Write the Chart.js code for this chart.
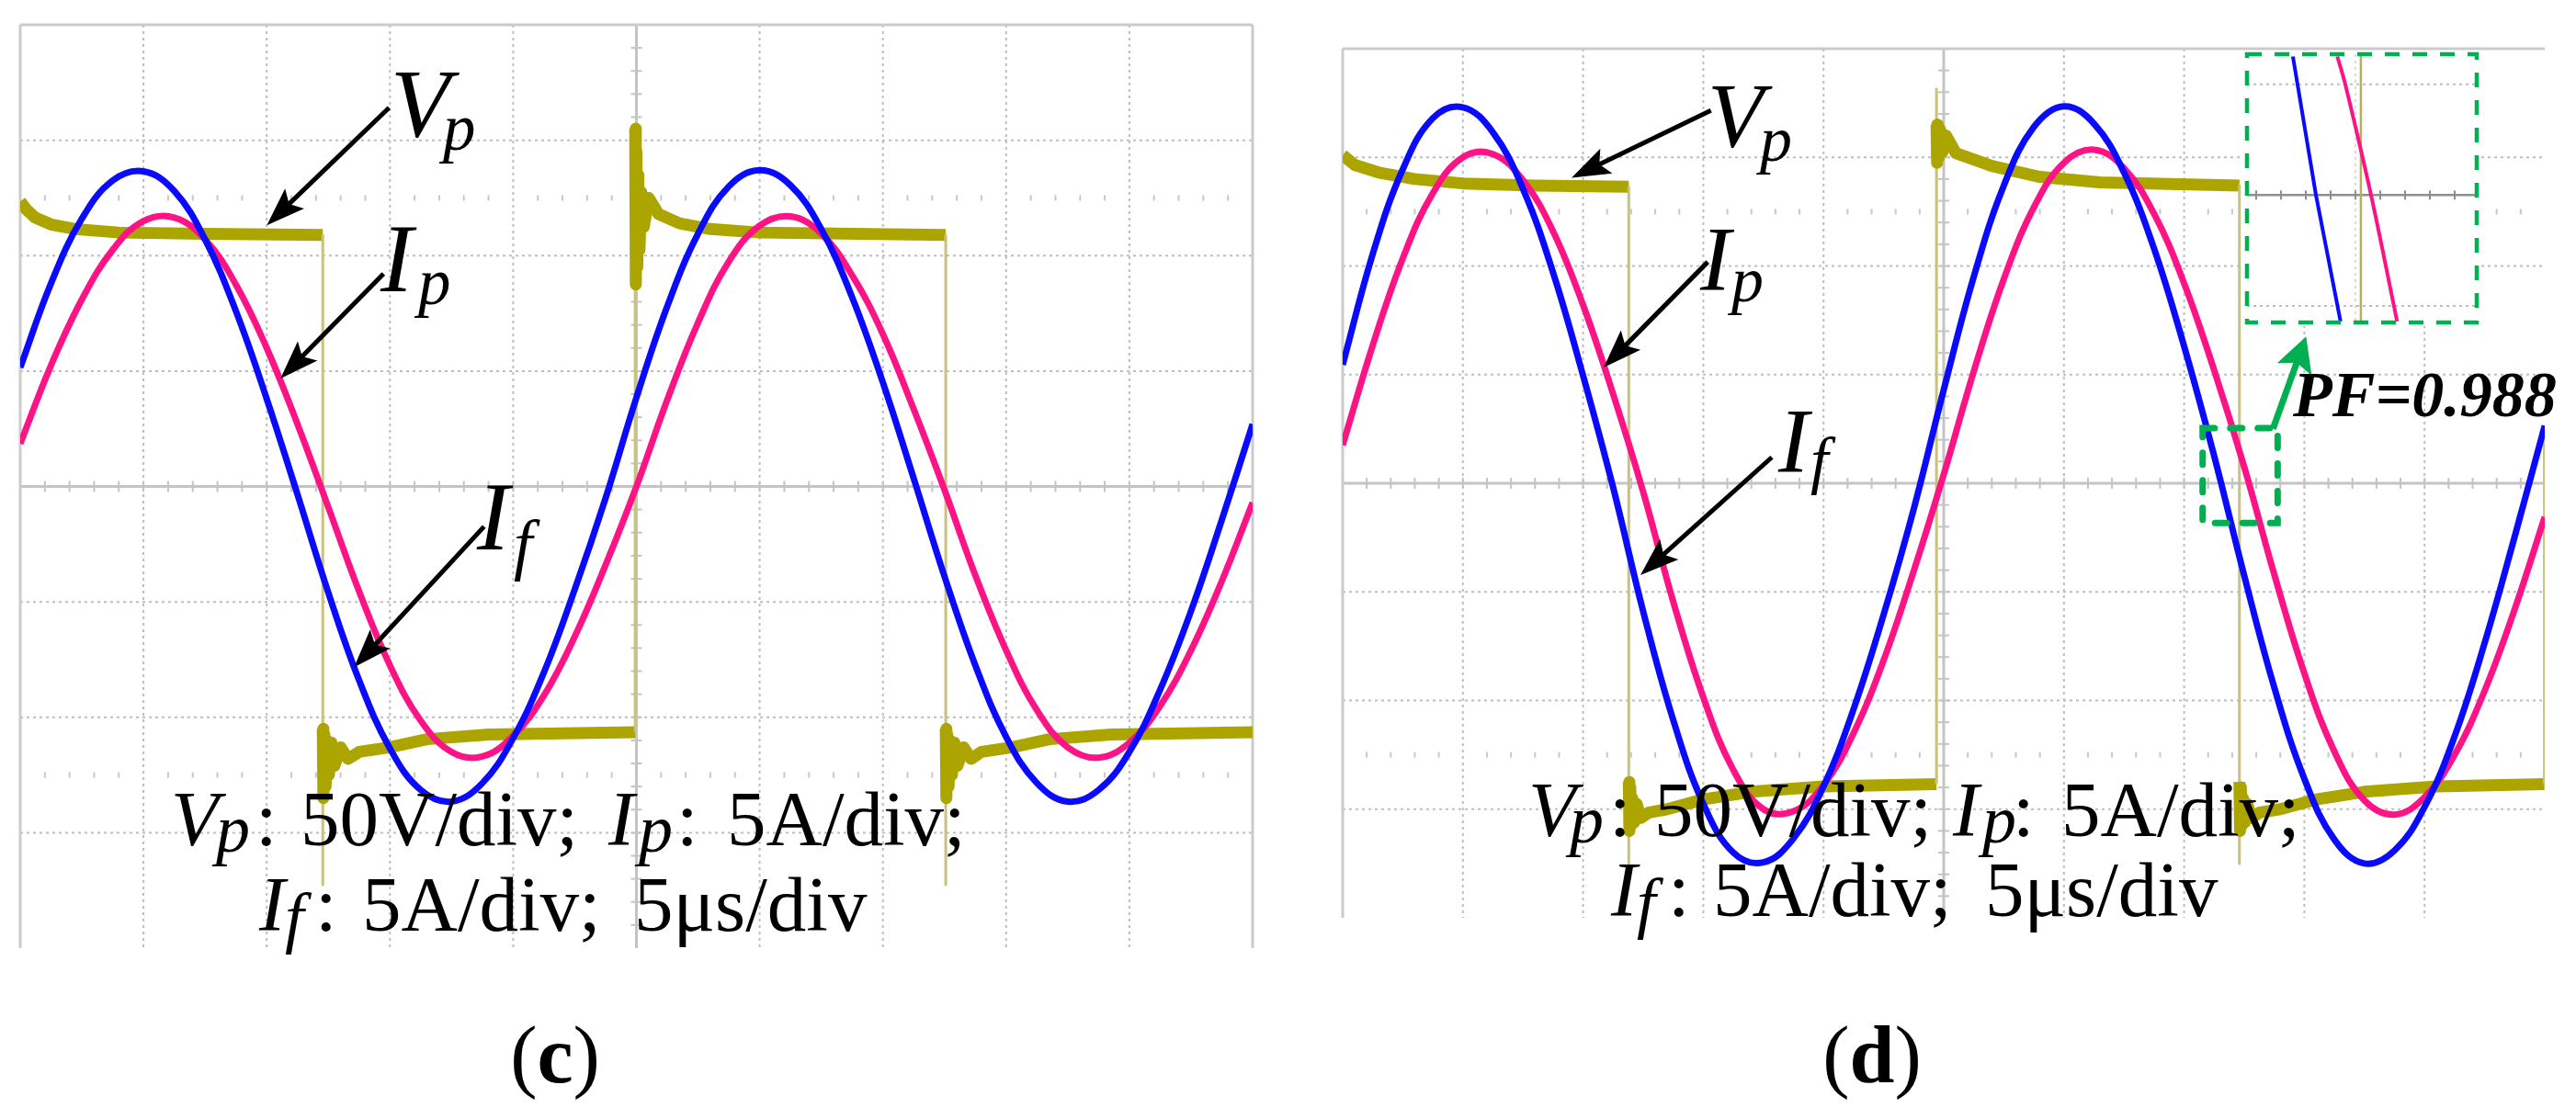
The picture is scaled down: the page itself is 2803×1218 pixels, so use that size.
<!DOCTYPE html>
<html>
<head>
<meta charset="utf-8">
<title>Scope waveforms (c) and (d)</title>
<script src="https://cdn.jsdelivr.net/npm/chart.js@4.4.1/dist/chart.umd.min.js"></script>
<style>
  html, body { margin: 0; padding: 0; background: #fff; }
  body { position: relative; width: 2803px; height: 1218px; overflow: hidden; }
  canvas { position: absolute; }
  #labels { position: absolute; left: 0; top: 0; }
  #labels text { font-family: "Liberation Serif", "Times New Roman", serif; fill: #000; }
  #labels .it { font-style: italic; }
</style>
</head>
<body>
<canvas id="scope-c" width="1349" height="1013" style="left:18px;top:23px"></canvas>
<canvas id="scope-d" width="1316" height="954" style="left:1457px;top:49px"></canvas>
<canvas id="scope-zoom" width="258" height="300" style="left:2441px;top:55px"></canvas>

<svg id="labels" width="2803" height="1218" xmlns="http://www.w3.org/2000/svg">
  <!-- (c) trace names -->
  <text class="it" x="425" y="148" font-size="106">V</text>
  <text class="it" x="482" y="163" font-size="71">p</text>
  <text class="it" x="414" y="317" font-size="106">I</text>
  <text class="it" x="455" y="331" font-size="71">p</text>
  <text class="it" x="519" y="598" font-size="106">I</text>
  <text class="it" x="559" y="617" font-size="73">f</text>
  <!-- (c) scale note -->
  <text class="it" x="186" y="920" font-size="85">V</text>
  <text class="it" x="235" y="927" font-size="74">p</text>
  <text x="278" y="920" font-size="85">:</text>
  <text x="327" y="920" font-size="85">50V/div;</text>
  <text class="it" x="662" y="920" font-size="85">I</text>
  <text class="it" x="695" y="927" font-size="74">p</text>
  <text x="736" y="920" font-size="85">:</text>
  <text x="791" y="920" font-size="85">5A/div;</text>
  <text class="it" x="282" y="1013" font-size="85">I</text>
  <text class="it" x="310" y="1023" font-size="74">f</text>
  <text x="343" y="1013" font-size="85">:</text>
  <text x="394" y="1013" font-size="85">5A/div;</text>
  <text x="690" y="1013" font-size="85">5μs/div</text>
  <text x="604" y="1178" font-size="88" text-anchor="middle">(<tspan font-weight="bold">c</tspan>)</text>

  <!-- (d) trace names -->
  <text class="it" x="1858" y="159" font-size="100">V</text>
  <text class="it" x="1915" y="175" font-size="70">p</text>
  <text class="it" x="1850" y="315" font-size="100">I</text>
  <text class="it" x="1884" y="328" font-size="70">p</text>
  <text class="it" x="1935" y="513" font-size="100">I</text>
  <text class="it" x="1970" y="524" font-size="70">f</text>
  <!-- (d) scale note -->
  <text class="it" x="1663" y="910" font-size="85">V</text>
  <text class="it" x="1708" y="917" font-size="74">p</text>
  <text x="1751" y="910" font-size="85">:</text>
  <text x="1800" y="910" font-size="85">50V/div;</text>
  <text class="it" x="2125" y="910" font-size="85">I</text>
  <text class="it" x="2157" y="917" font-size="74">p</text>
  <text x="2190" y="910" font-size="85">:</text>
  <text x="2243" y="910" font-size="85">5A/div;</text>
  <text class="it" x="1753" y="997" font-size="85">I</text>
  <text class="it" x="1781" y="1007" font-size="74">f</text>
  <text x="1815" y="997" font-size="85">:</text>
  <text x="1864" y="997" font-size="85">5A/div;</text>
  <text x="2160" y="997" font-size="85">5μs/div</text>
  <text x="2495" y="453" font-size="70" font-weight="bold" font-style="italic">PF=0.988</text>
  <text x="2037" y="1178" font-size="88" text-anchor="middle">(<tspan font-weight="bold">d</tspan>)</text>
</svg>

<script>
// time axis in divisions (5 us/div), shared by the current traces
const tDiv = [0, 0.25, 0.5, 0.75, 1, 1.25, 1.5, 1.75, 2, 2.25, 2.5, 2.75, 3, 3.25, 3.5, 3.75,
              4, 4.25, 4.5, 4.75, 5, 5.25, 5.5, 5.75, 6, 6.25, 6.5, 6.75, 7, 7.25, 7.5, 7.75,
              8, 8.25, 8.5, 8.75, 9, 9.25, 9.5, 9.75, 10];

// (c) readings, in divisions
const cIf = [1.03, 1.76, 2.32, 2.65, 2.73, 2.56, 2.14, 1.52, 0.76, -0.07, -0.92, -1.68, -2.27, -2.63,
             -2.73, -2.57, -2.18, -1.61, -0.89, -0.10, 0.77, 1.56, 2.19, 2.60, 2.74, 2.61, 2.23, 1.64,
             0.90, 0.07, -0.78, -1.55, -2.17, -2.57, -2.73, -2.63, -2.30, -1.76, -1.08, -0.29, 0.54];
const cIp = [0.37, 1.05, 1.62, 2.05, 2.30, 2.33, 2.14, 1.75, 1.20, 0.54, -0.18, -0.91, -1.55, -2.03,
             -2.30, -2.34, -2.16, -1.81, -1.30, -0.68, 0.00, 0.75, 1.42, 1.95, 2.26, 2.34, 2.19, 1.83,
             1.32, 0.67, -0.03, -0.77, -1.42, -1.94, -2.26, -2.35, -2.22, -1.90, -1.42, -0.82, -0.14];
const cVpT = [0, 0.05, 0.12, 0.25, 0.45, 0.8, 1.5,
              2.455, 2.455, 2.455, 2.46, 2.468, 2.478, 2.49, 2.505, 2.525, 2.55, 2.6, 2.66, 2.75, 3.0, 3.3, 3.8,
              4.99, 4.99, 4.995, 5.0, 5.008, 5.015, 5.025, 5.04, 5.06, 5.1, 5.18, 5.35, 5.6, 6.0,
              7.51, 7.51, 7.51, 7.515, 7.523, 7.533, 7.545, 7.56, 7.58, 7.605, 7.655, 7.715, 7.8,
              8.05, 8.35, 8.85, 10];
const cVp = [2.47, 2.40, 2.33, 2.27, 2.23, 2.20, 2.19,
             2.18, -3.45, -2.10, -2.70, -2.15, -2.60, -2.20, -2.50, -2.22, -2.42, -2.26, -2.36, -2.30, -2.26, -2.19, -2.15,
             -2.13, 3.10, 1.75, 2.90, 1.90, 2.70, 2.05, 2.55, 2.25, 2.50, 2.36, 2.28, 2.23, 2.20,
             2.18, -3.45, -2.10, -2.70, -2.15, -2.60, -2.20, -2.50, -2.22, -2.42, -2.26, -2.36, -2.30,
             -2.26, -2.19, -2.15, -2.13];

// (d) readings, in divisions
const dIf = [1.09, 2.11, 2.89, 3.36, 3.46, 3.23, 2.71, 1.94, 0.99, -0.04, -1.18, -2.18, -2.95, -3.40,
             -3.49, -3.27, -2.79, -2.08, -1.21, -0.24, 0.86, 1.90, 2.74, 3.28, 3.47, 3.31, 2.86, 2.16,
             1.26, 0.25, -0.85, -1.88, -2.72, -3.28, -3.50, -3.38, -2.98, -2.33, -1.47, -0.49, 0.53];
const dIp = [0.35, 1.27, 2.07, 2.67, 3.00, 3.03, 2.79, 2.32, 1.64, 0.82, -0.08, -1.09, -1.97, -2.64,
             -3.00, -3.02, -2.78, -2.30, -1.63, -0.81, 0.08, 1.03, 1.88, 2.54, 2.95, 3.07, 2.90, 2.48,
             1.84, 1.04, 0.15, -0.84, -1.75, -2.47, -2.92, -3.05, -2.89, -2.50, -1.91, -1.16, -0.31];
const dVpT = [0, 0.1, 0.3, 0.6, 1.0, 1.6, 2.38,
              2.38, 2.38, 2.385, 2.392, 2.4, 2.41, 2.425, 2.445, 2.48, 2.55, 2.7, 3.0, 3.4, 4.0, 4.94,
              4.94, 4.94, 4.945, 4.951, 4.96, 4.972, 4.99, 5.02, 5.1, 5.4, 5.8, 6.3, 7.46,
              7.46, 7.46, 7.465, 7.472, 7.48, 7.49, 7.505, 7.525, 7.56, 7.63, 7.8, 8.1, 8.5, 9.1,
              9.997, 9.997];
const dVp = [3.02, 2.93, 2.86, 2.80, 2.76, 2.74, 2.73,
             -3.50, -2.75, -3.20, -2.80, -3.15, -2.90, -3.12, -2.95, -3.08, -3.03, -3.00, -2.91, -2.84, -2.79, -2.77,
             3.63, 3.30, 2.95, 3.30, 3.00, 3.25, 3.05, 3.20, 3.04, 2.92, 2.82, 2.77, 2.74,
             -3.50, -2.75, -3.20, -2.80, -3.15, -2.90, -3.12, -2.95, -3.08, -3.03, -3.00, -2.91, -2.84, -2.79,
             -2.77, 0.50];

// zoomed window in (d): minor ticks on x, y in units of the dotted lines
const zIfT = [-2.52, -1.59, -0.60];
const zIf = [1.25, 0.00, -1.14];
const zIpT = [-0.73, -0.42, 0.63, 1.68];
const zIp = [1.25, 1.01, 0.00, -1.14];
const zVpT = [0.22, 0.22];
const zVp = [1.4, -1.3];

const BLUE = '#0a0aff', PINK = '#fc1486', OLIVE = '#aca500', OLIVE_EDGE = '#c8c27c';
const GRID = '#bebebe', GREEN = '#00b050';

const pts = (xs, ys) => xs.map((x, i) => ({ x, y: ys[i] }));
const isEdge = c => Math.abs(c.p1.parsed.x - c.p0.parsed.x) < 0.001;

function seg(ctx, x0, y0, x1, y1) {
    ctx.beginPath();
    ctx.moveTo(x0, y0);
    ctx.lineTo(x1, y1);
    ctx.stroke();
}

function drawArrow(ctx, x0, y0, x1, y1, shaft, len, half, color) {
    const a = Math.atan2(y1 - y0, x1 - x0), c = Math.cos(a), s = Math.sin(a);
    const bx = x1 - len * c, by = y1 - len * s;
    ctx.strokeStyle = color;
    ctx.fillStyle = color;
    ctx.lineWidth = shaft;
    ctx.lineCap = 'butt';
    seg(ctx, x0, y0, x1 - 0.7 * len * c, y1 - 0.7 * len * s);
    ctx.beginPath();
    ctx.moveTo(x1, y1);
    ctx.lineTo(bx + half * s, by - half * c);
    ctx.lineTo(x1 - 0.8 * len * c, y1 - 0.8 * len * s);
    ctx.lineTo(bx - half * s, by + half * c);
    ctx.closePath();
    ctx.fill();
}

// graticule of the scope screen
const scopeGrid = {
    id: 'scopeGrid',
    beforeDatasetsDraw(chart, args, opts) {
        const { ctx, chartArea: a, scales: { x, y } } = chart;
        const px = v => x.getPixelForValue(v), py = v => y.getPixelForValue(v);
        ctx.save();
        ctx.fillStyle = '#fff';
        ctx.fillRect(a.left, a.top, a.width, a.height);

        ctx.strokeStyle = GRID;
        ctx.lineWidth = 2;
        ctx.setLineDash([3, 4]);
        for (let i = 1; i < 10; i++) if (i !== 5) seg(ctx, px(i), a.top, px(i), a.bottom);
        for (let j = -3; j <= 3; j++) if (j !== 0) seg(ctx, a.left, py(j), a.right, py(j));
        ctx.setLineDash([]);

        ctx.strokeStyle = '#c4c4c4';
        ctx.lineWidth = 3;
        seg(ctx, a.left, py(0), a.right, py(0));
        seg(ctx, px(5), a.top, px(5), a.bottom);
        ctx.lineWidth = 2;
        for (let k = 1; k < 50; k++) seg(ctx, px(k / 5), py(0) - 6, px(k / 5), py(0) + 6);
        for (let k = -19; k < 20; k++) seg(ctx, px(5) - 6, py(k / 5), px(5) + 6, py(k / 5));

        ctx.strokeStyle = '#c8c8c8';
        for (let k = 1; k < 50; k++) {
            if (k % 5 === 0) continue;
            seg(ctx, px(k / 5), py(2.5) - 3, px(k / 5), py(2.5) + 3);
            seg(ctx, px(k / 5), py(-2.5) - 3, px(k / 5), py(-2.5) + 3);
        }

        ctx.strokeStyle = '#cbcbcb';
        ctx.lineWidth = 3;
        seg(ctx, a.left, a.bottom, a.left, a.top);
        seg(ctx, a.left, a.top, a.right, a.top);
        if (opts.frameRight) seg(ctx, a.right, a.top, a.right, a.bottom);
        ctx.restore();
    }
};

// label arrows and the green markers, given in divisions
const scopeMarks = {
    id: 'scopeMarks',
    afterDatasetsDraw(chart, args, opts) {
        const { ctx, scales: { x, y } } = chart;
        const px = v => x.getPixelForValue(v), py = v => y.getPixelForValue(v);
        ctx.save();
        (opts.arrows || []).forEach(([from, to]) =>
            drawArrow(ctx, px(from[0]), py(from[1]), px(to[0]), py(to[1]), 5, 42, 15, '#000'));
        if (opts.box) {
            const [x0, x1, y0, y1] = opts.box;
            ctx.strokeStyle = GREEN;
            ctx.lineWidth = 7;
            ctx.lineCap = 'round';
            ctx.setLineDash([13, 17]);
            ctx.strokeRect(px(x0), py(y1), px(x1) - px(x0), py(y0) - py(y1));
            ctx.setLineDash([]);
        }
        if (opts.greenArrow) {
            const [from, to] = opts.greenArrow;
            drawArrow(ctx, px(from[0]), py(from[1]), px(to[0]), py(to[1]), 7, 38, 20, GREEN);
        }
        ctx.restore();
    }
};

// the zoomed window: white screen, its own graticule, dashed green frame
const zoomFrame = {
    id: 'zoomFrame',
    beforeDatasetsDraw(chart) {
        const { ctx, chartArea: a, scales: { x, y } } = chart;
        const px = v => x.getPixelForValue(v), py = v => y.getPixelForValue(v);
        ctx.save();
        ctx.fillStyle = '#fff';
        ctx.fillRect(a.left - 4, a.top - 4, a.width + 8, a.height + 8);
        ctx.strokeStyle = GRID;
        ctx.lineWidth = 2;
        ctx.setLineDash([3, 4]);
        seg(ctx, a.left, py(1), a.right, py(1));
        seg(ctx, a.left, py(-1), a.right, py(-1));
        ctx.strokeStyle = '#dadada';
        seg(ctx, px(0), a.top, px(0), a.bottom);
        ctx.setLineDash([]);
        ctx.strokeStyle = '#8e8e8e';
        ctx.lineWidth = 2.5;
        seg(ctx, a.left, py(0), a.right, py(0));
        ctx.lineWidth = 2;
        for (let k = -4; k <= 4; k++) seg(ctx, px(k), py(0) - 5, px(k), py(0) + 5);
        ctx.restore();
    },
    afterDatasetsDraw(chart) {
        const { ctx, chartArea: a } = chart;
        ctx.save();
        ctx.strokeStyle = GREEN;
        ctx.lineWidth = 4.5;
        ctx.setLineDash([16, 14]);
        ctx.strokeRect(a.left, a.top, a.width, a.height);
        ctx.restore();
    }
};

function traces(ifY, ipY, vpT, vpY) {
    return [
        { label: 'If', data: pts(tDiv, ifY), borderColor: BLUE, borderWidth: 7, tension: 0.4, clip: 0 },
        { label: 'Ip', data: pts(tDiv, ipY), borderColor: PINK, borderWidth: 7, tension: 0.4, clip: 0 },
        {
            label: 'Vp', data: pts(vpT, vpY), borderColor: OLIVE, borderWidth: 13, tension: 0, clip: 0,
            segment: {
                borderWidth: c => isEdge(c) ? 3 : undefined,
                borderColor: c => isEdge(c) ? OLIVE_EDGE : undefined
            }
        }
    ];
}

function scopeChart(id, datasets, xRange, yRange, plugins, pluginOpts) {
    return new Chart(document.getElementById(id), {
        type: 'line',
        data: { datasets },
        options: {
            responsive: false,
            animation: false,
            devicePixelRatio: 1,
            events: [],
            layout: { padding: 4 },
            scales: {
                x: { type: 'linear', min: xRange[0], max: xRange[1], display: false },
                y: { type: 'linear', min: yRange[0], max: yRange[1], display: false }
            },
            elements: {
                point: { radius: 0 },
                line: { borderJoinStyle: 'round', borderCapStyle: 'butt' }
            },
            plugins: Object.assign({ legend: { display: false }, tooltip: { enabled: false } }, pluginOpts)
        },
        plugins
    });
}

scopeChart('scope-c', traces(cIf, cIp, cVpT, cVp), [0, 10], [-4, 4], [scopeGrid, scopeMarks], {
    scopeGrid: { frameRight: true },
    scopeMarks: {
        arrows: [
            [[2.993, 3.282], [2.001, 2.263]],
            [[2.948, 1.842], [2.112, 0.935]],
            [[3.764, -0.347], [2.709, -1.567]]
        ]
    }
});

scopeChart('scope-d', traces(dIf, dIp, dVpT, dVp), [0, 10], [-4, 4], [scopeGrid, scopeMarks], {
    scopeGrid: { frameRight: false },
    scopeMarks: {
        arrows: [
            [[3.063, 3.432], [1.904, 2.812]],
            [[3.037, 2.037], [2.171, 1.065]],
            [[3.570, 0.239], [2.477, -0.845]]
        ],
        box: [7.154, 7.778, -0.366, 0.507],
        greenArrow: [[7.739, 0.501], [8.015, 1.352]]
    }
});

scopeChart('scope-zoom', [
    { label: 'If', data: pts(zIfT, zIf), borderColor: BLUE, borderWidth: 4, tension: 0, clip: 0 },
    { label: 'Ip', data: pts(zIpT, zIp), borderColor: PINK, borderWidth: 4, tension: 0.3, clip: 0 },
    { label: 'Vp', data: pts(zVpT, zVp), borderColor: '#b7b05a', borderWidth: 2.5, tension: 0, clip: 0 }
], [-4.37, 4.89], [-1.15, 1.271], [zoomFrame], {});
</script>
</body>
</html>
